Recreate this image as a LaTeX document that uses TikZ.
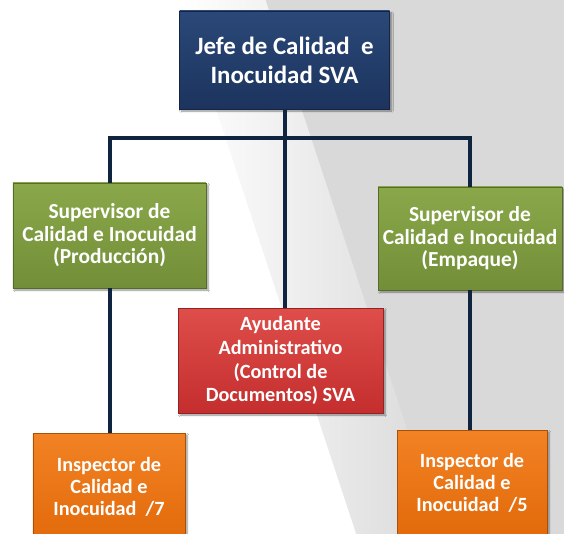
\documentclass[tikz,border=0pt]{standalone}
\usepackage{fontspec}
\setmainfont{Carlito}
\usetikzlibrary{shadows.blur}
\definecolor{bggray}{RGB}{217,217,217}
\definecolor{navyT}{RGB}{42,72,120}
\definecolor{navyB}{RGB}{28,52,94}
\definecolor{greenT}{RGB}{138,168,74}
\definecolor{greenB}{RGB}{114,142,56}
\definecolor{redT}{RGB}{222,78,74}
\definecolor{redB}{RGB}{196,46,46}
\definecolor{orangeT}{RGB}{242,130,36}
\definecolor{orangeB}{RGB}{226,106,10}
\definecolor{navyline}{RGB}{15,36,62}
\begin{document}
\begin{tikzpicture}[x=1bp,y=-1bp,
  box/.style={rectangle, inner sep=0pt, align=center, text=white,
    blur shadow={shadow blur steps=6, shadow xshift=2bp, shadow yshift=-2bp, shadow opacity=45}},
  jefebox/.style={box, top color=navyT, bottom color=navyB, draw=navyB!70!black, line width=0.6bp,
    font=\bfseries\fontsize{25}{29}\selectfont},
  supbox/.style={box, top color=greenT, bottom color=greenB, draw=greenB!75!black, line width=0.6bp,
    font=\bfseries\fontsize{21.5}{22.5}\selectfont},
  ayubox/.style={box, top color=redT, bottom color=redB, draw=redB!75!black, line width=0.6bp,
    font=\bfseries\fontsize{20.3}{24}\selectfont},
  insbox/.style={box, top color=orangeT, bottom color=orangeB, draw=orangeB!75!black, line width=0.6bp,
    font=\bfseries\fontsize{20.3}{22}\selectfont},
  link/.style={draw=navyline, line width=4bp}]
\useasboundingbox (0,0) rectangle (564,534);
\clip (0,0) rectangle (564,534);
% background
\fill[white] (0,0) rectangle (564,534);
\begin{scope}[xslant=-0.33]
  \fill[bggray] (265,0) rectangle (800,534);
  \shade[left color=white, right color=bggray] (180,0) rectangle (265.5,534);
\end{scope}
% nodes
\node[jefebox, minimum width=210bp, minimum height=98bp] (jefe) at (284.5,60) {Jefe de Calidad\ \ e\\Inocuidad SVA};
\coordinate (bar) at (284.5,138);
\node[supbox, minimum width=193bp, minimum height=105bp] (supP) at (109.5,235.5) {Supervisor de\\Calidad e Inocuidad\\(Producción)};
\node[supbox, minimum width=184bp, minimum height=103bp] (supE) at (470,238.5) {Supervisor de\\Calidad e Inocuidad\\(Empaque)};
\node[ayubox, minimum width=205bp, minimum height=105bp] (ayu) at (280.5,360.5) {Ayudante\\Administrativo\\(Control de\\Documentos) SVA};
\node[insbox, minimum width=152bp, minimum height=108bp] (ins7) at (109,487) {Inspector de\\Calidad e\\Inocuidad\ \ /7};
\node[insbox, minimum width=150bp, minimum height=106bp] (ins5) at (472,483) {Inspector de\\Calidad e\\Inocuidad\ \ /5};
% connectors
\draw[link] (jefe.south) -- (jefe.south |- ayu.north);
\draw[link] (supP.north) |- (bar) -| (supE.north);
\draw[link] (supP.south) -- (supP.south |- ins7.north);
\draw[link] (supE.south) -- (supE.south |- ins5.north);
\end{tikzpicture}
\end{document}
